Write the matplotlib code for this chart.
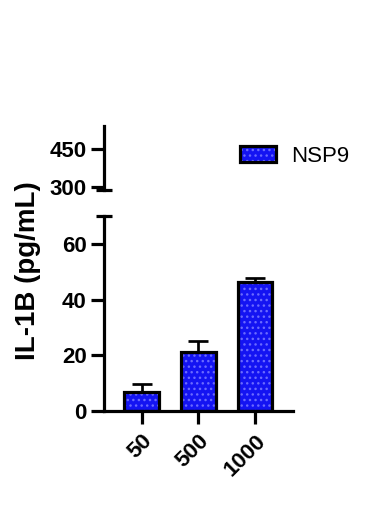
import matplotlib
matplotlib.use("Agg")
import matplotlib.pyplot as plt

doses = ["50", "500", "1000"]
il1b = [6.7, 21.3, 46.4]
err_up = [2.9, 3.7, 1.4]
series = "NSP9"

plt.rcParams["font.family"] = ["Liberation Sans", "DejaVu Sans"]
plt.rcParams["hatch.linewidth"] = 1.0

fill = "#1414f2"
dots = "#6a6aff"
lw = 2.3

fig = plt.figure(figsize=(3.86, 5.16), dpi=100)
ax_lo = fig.add_axes([0.2694, 0.2035, 0.4896, 0.378])
ax_hi = fig.add_axes([0.2694, 0.6318, 0.4896, 0.124])

x = list(range(len(doses)))
for ax in (ax_lo, ax_hi):
    # error bars (upper only), then hatched fill, then black outline
    ax.errorbar(x, il1b, yerr=[[0] * len(x), err_up], fmt="none",
                ecolor="black", elinewidth=lw * 0.85, capsize=7,
                capthick=lw * 0.85, zorder=1)
    ax.bar(x, il1b, width=0.6, color=fill, edgecolor=dots,
           hatch="...", linewidth=0, zorder=2)
    ax.bar(x, il1b, width=0.6, facecolor="none", edgecolor="black",
           linewidth=lw, zorder=3)
    ax.set_xlim(-0.66, 2.66)
    for s in ("top", "right"):
        ax.spines[s].set_visible(False)
    ax.spines["left"].set_linewidth(lw)
    ax.spines["bottom"].set_linewidth(lw)
    ax.tick_params(width=lw, length=9.5, labelsize=16, pad=3)

ax_lo.set_ylim(0, 70)
ax_lo.set_yticks([0, 20, 40, 60])
ax_lo.set_xticks(x)
ax_lo.set_xticklabels(doses, rotation=45, ha="right",
                      rotation_mode="anchor", fontweight="bold", fontsize=16)
ax_lo.tick_params(axis="x", length=9, pad=5)
for lab in ax_lo.get_yticklabels():
    lab.set_fontweight("bold")

ax_hi.set_ylim(287, 541)
ax_hi.set_yticks([300, 450])
ax_hi.spines["bottom"].set_visible(False)
ax_hi.set_xticks([])
for lab in ax_hi.get_yticklabels():
    lab.set_fontweight("bold")

# axis break caps
kw = dict(color="black", linewidth=lw, clip_on=False, solid_capstyle="butt")
ax_hi.plot([-0.04, 0.045], [0, 0], transform=ax_hi.transAxes, **kw)
ax_lo.plot([-0.04, 0.045], [1, 1], transform=ax_lo.transAxes, **kw)

fig.text(0.072, 0.475, "IL-1B (pg/mL)", rotation=90, ha="center",
         va="center", fontsize=20, fontweight="bold")

h_fill = plt.Rectangle((0, 0), 1, 1, facecolor=fill, edgecolor=dots,
                       hatch="...", linewidth=0)
h_edge = plt.Rectangle((0, 0), 1, 1, facecolor="none", edgecolor="black",
                       linewidth=lw)
ax_hi.legend([(h_fill, h_edge)], [series], loc="upper left",
             bbox_to_anchor=(0.675, 0.83), frameon=False, fontsize=16,
             handlelength=1.6, handleheight=0.75, handletextpad=0.7,
             borderaxespad=0)

fig.savefig("out.png", dpi=100)
